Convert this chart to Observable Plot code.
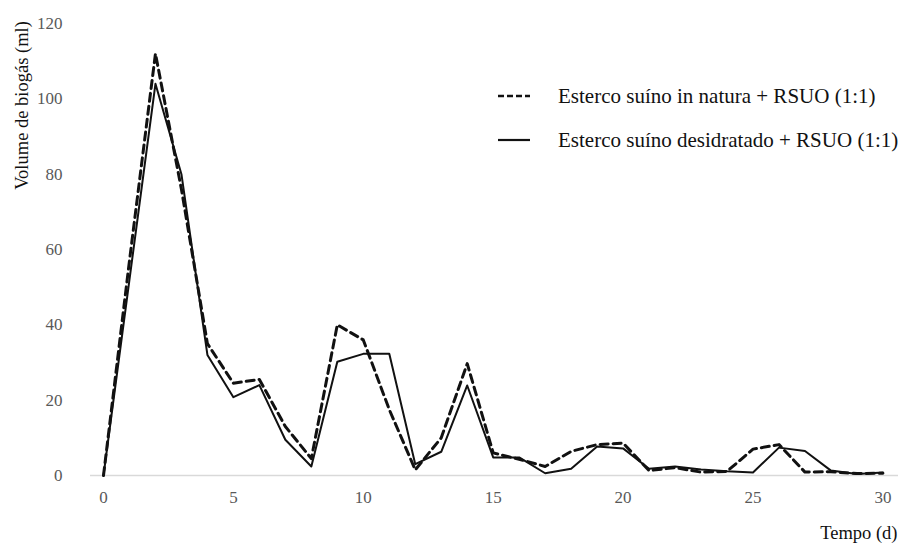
<!DOCTYPE html>
<html><head><meta charset="utf-8">
<script src="https://cdn.jsdelivr.net/npm/d3@7"></script>
<script src="https://cdn.jsdelivr.net/npm/@observablehq/plot@0.6"></script>
<style>
body{margin:0;background:#fff;font-family:'Liberation Serif',serif;}
#wrap{position:relative;width:900px;height:548px;}
#legend{position:absolute;left:497px;top:83px;font-size:21px;color:#111;font-family:'Liberation Serif',serif;}
#legend .row{display:flex;align-items:center;height:26px;margin-bottom:18px;white-space:nowrap;}
#legend svg{margin-right:27px;}
</style></head>
<body><div id="wrap"><div id="chart"></div><div id="legend"></div></div>
<script>
const days = [0,1,2,3,4,5,6,7,8,9,10,11,12,13,14,15,16,17,18,19,20,21,22,23,24,25,26,27,28,29,30];
const inNatura = [0,57,112,76,35,24.5,25.5,13,4.5,40,36,17.5,1.5,10,29.7,6,4.3,2.4,6.4,8.2,8.6,1.3,2.1,0.9,1.1,7,8.2,0.9,1,0.5,0.6];
const desidratado = [0,52,104,80,32,20.8,24,9.5,2.4,30.2,32.3,32.3,3,6.3,23.9,4.8,4.8,0.6,1.8,7.7,7.2,1.8,2.4,1.6,1.1,0.8,7.4,6.5,1.3,0.4,0.8];
const seriesNames = ["Esterco suíno in natura + RSUO (1:1)", "Esterco suíno desidratado + RSUO (1:1)"];
const xTicks = [0,5,10,15,20,25,30];
const yTicks = [0,20,40,60,80,100,120];
const yLabel = "Volume de biogás (ml)";
const xLabel = "Tempo (d)";
const FF = "Liberation Serif";

const rows = [];
days.forEach((d,i)=>{
  rows.push({day:d, v:inNatura[i], s:seriesNames[0]});
  rows.push({day:d, v:desidratado[i], s:seriesNames[1]});
});
const dashed = rows.filter(r=>r.s===seriesNames[0]);
const solid = rows.filter(r=>r.s===seriesNames[1]);

const chart = Plot.plot({
  width: 900, height: 548,
  marginLeft: 90, marginRight: 2, marginTop: 23, marginBottom: 73,
  style: {fontFamily: FF, fontSize: "17px", background: "#fff"},
  x: {domain: [-0.5, 30.6], label: null},
  y: {domain: [0, 120], label: null},
  marks: [
    Plot.axisX({ticks: xTicks, tickSize: 0, tickPadding: 15, color: "#595959", fontSize: 17, fontFamily: FF, label: null}),
    Plot.axisY({ticks: yTicks, tickSize: 0, tickPadding: 28, color: "#595959", fontSize: 17, fontFamily: FF, label: null}),
    Plot.ruleY([0], {stroke: "#d9d9d9", strokeWidth: 1.5}),
    Plot.line(solid, {x: "day", y: "v", stroke: "#111", strokeWidth: 2}),
    Plot.line(dashed, {x: "day", y: "v", stroke: "#111", strokeWidth: 3, strokeDasharray: "8,5"}),
    Plot.text([yLabel], {frameAnchor: "top-left", text: d=>d, rotate: -90, dx: -76, dy: 82, fontSize: 18.5, fontFamily: FF, fill: "#111", textAnchor: "middle"}),
    Plot.text([xLabel], {frameAnchor: "bottom-right", text: d=>d, dx: -1, dy: 63, fontSize: 18.5, fontFamily: FF, fill: "#111", textAnchor: "end"})
  ]
});
document.getElementById("chart").appendChild(chart);

const leg = d3.select("#legend");
seriesNames.forEach((name,i)=>{
  const row = leg.append("div").attr("class","row");
  const s = row.append("svg").attr("width",34).attr("height",10);
  s.append("line").attr("x1",1).attr("x2",33).attr("y1",5).attr("y2",5)
    .attr("stroke","#111").attr("stroke-width", i===0?2.5:2.2)
    .attr("stroke-dasharray", i===0?"6,3":null);
  row.append("span").text(name);
});
</script></body></html>
